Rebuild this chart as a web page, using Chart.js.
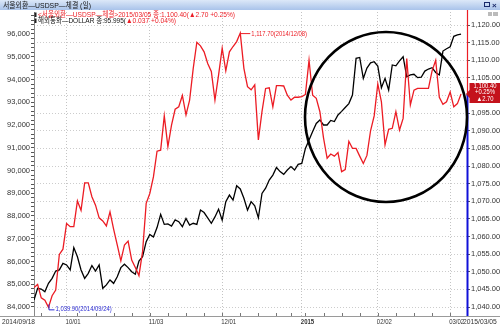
<!DOCTYPE html>
<html>
<head>
<meta charset="utf-8">
<title>서울외환-USDSP-체결 (일)</title>
<script src="https://cdn.jsdelivr.net/npm/chart.js@4.4.1/dist/chart.umd.min.js"></script>
<style>
  html, body { margin: 0; padding: 0; background: #fff; overflow: hidden; }
  #wrap { position: relative; width: 500px; height: 327px; }
</style>
</head>
<body>
<div id="wrap"><canvas id="chart" width="500" height="327"></canvas></div>
<script>
// Trading dates (union of Seoul FX and dollar index days)
const dates = [
  '2014/09/18','2014/09/19','2014/09/22','2014/09/23','2014/09/24','2014/09/25','2014/09/26','2014/09/29','2014/09/30',
  '2014/10/01','2014/10/02','2014/10/03','2014/10/06','2014/10/07','2014/10/08','2014/10/09','2014/10/10','2014/10/13',
  '2014/10/14','2014/10/15','2014/10/16','2014/10/17','2014/10/20','2014/10/21','2014/10/22','2014/10/23','2014/10/24',
  '2014/10/27','2014/10/28','2014/10/29','2014/10/30','2014/10/31',
  '2014/11/03','2014/11/04','2014/11/05','2014/11/06','2014/11/07','2014/11/10','2014/11/11','2014/11/12','2014/11/13',
  '2014/11/14','2014/11/17','2014/11/18','2014/11/19','2014/11/20','2014/11/21','2014/11/24','2014/11/25','2014/11/26',
  '2014/11/27','2014/11/28',
  '2014/12/01','2014/12/02','2014/12/03','2014/12/04','2014/12/05','2014/12/08','2014/12/09','2014/12/10','2014/12/11',
  '2014/12/12','2014/12/15','2014/12/16','2014/12/17','2014/12/18','2014/12/19','2014/12/22','2014/12/23','2014/12/24',
  '2014/12/26','2014/12/29','2014/12/30','2014/12/31',
  '2015/01/02','2015/01/05','2015/01/06','2015/01/07','2015/01/08','2015/01/09','2015/01/12','2015/01/13','2015/01/14',
  '2015/01/15','2015/01/16','2015/01/19','2015/01/20','2015/01/21','2015/01/22','2015/01/23','2015/01/26','2015/01/27',
  '2015/01/28','2015/01/29','2015/01/30',
  '2015/02/02','2015/02/03','2015/02/04','2015/02/05','2015/02/06','2015/02/09','2015/02/10','2015/02/11','2015/02/12',
  '2015/02/13','2015/02/16','2015/02/17','2015/02/18','2015/02/19','2015/02/20','2015/02/23','2015/02/24','2015/02/25',
  '2015/02/26','2015/02/27',
  '2015/03/02','2015/03/03','2015/03/04','2015/03/05'
];

// 서울외환-USDSP-체결 (right axis)
const usdKrw = [
  1045.5, 1046.4, 1042.6, 1041.9, 1039.9, 1043.2, 1044.8, 1054.9, 1056.4,
  1063.7, 1062.8, 1062.8, 1070.1, 1067.4, 1075.2, 1075.2, 1071.3, 1068.9, 1065.3, 1064.4, 1063.0, 1067.0,
  1062.1, 1057.6, 1053.1, 1057.6, 1058.7, 1053.3, 1051.2, 1048.9, 1055.7, 1069.4,
  1072.2, 1076.9, 1084.2, 1084.5, 1094.2, 1085.5, 1091.6, 1096.1, 1096.8, 1100.0, 1094.5, 1098.7, 1107.7,
  1115.1, 1114.1, 1112.4, 1109.1, 1106.8, 1098.7, 1105.8,
  1113.4, 1107.0, 1112.4, 1113.9, 1115.3, 1117.7, 1107.7, 1102.5, 1101.6, 1103.0, 1087.4, 1095.4, 1102.0,
  1102.2, 1096.8, 1102.8, 1102.8, 1102.7, 1100.1, 1098.7, 1099.5, 1099.5,
  1099.7, 1100.3, 1110.0, 1100.1, 1099.2, 1095.4, 1088.0, 1082.2, 1083.4, 1082.8, 1083.8, 1078.4, 1079.0,
  1087.0, 1085.0, 1085.0, 1082.8, 1080.7, 1083.0, 1090.0, 1094.2,
  1103.3, 1098.2, 1086.0, 1090.4, 1090.7, 1095.4, 1090.2, 1093.5, 1110.5, 1097.3, 1101.5, 1102.0, 1102.0,
  1102.0, 1102.0, 1107.0, 1110.0, 1099.5, 1097.5, 1098.2,
  1101.0, 1096.8, 1097.7, 1100.4
];

// 해외통화-DOLLAR (left axis)
const dollarIdx = [
  84.31, 84.82, 84.79, 84.67, 85.04, 85.26, 85.58, 85.63, 85.92,
  85.85, 85.63, 86.61, 86.21, 85.63, 85.26, 85.48, 85.82, 85.58, 85.85, 84.82, 84.97, 85.19,
  85.04, 85.33, 85.73, 85.88, 85.73, 85.55, 85.44, 86.02, 86.21, 86.87,
  87.19, 87.08, 87.49, 88.07, 87.63, 87.65, 87.56, 87.83, 87.75, 87.53, 87.89, 87.60, 87.68,
  87.63, 88.26, 88.15, 87.92, 87.68, 87.96, 88.30,
  87.82, 88.63, 88.92, 88.70, 89.33, 89.19, 88.78, 88.26, 88.63, 88.45, 87.92, 88.99, 89.22,
  89.58, 89.80, 90.13, 89.95, 89.83, 90.02, 90.17, 90.02, 90.27,
  90.31, 90.97, 91.34, 91.71, 92.07, 92.22, 92.00, 92.00, 92.20, 92.15, 92.44, 92.60, 92.77,
  92.94, 93.32, 94.93, 94.97, 94.05, 94.50, 94.73, 94.78,
  94.59, 93.64, 94.05, 93.54, 94.64, 94.60, 94.82, 95.00, 94.12, 94.20, 94.23, 94.08, 94.10,
  94.37, 94.46, 94.52, 94.31, 94.20, 95.25, 95.35,
  95.44, 95.90, 95.958, 95.995
];

const xTickIndex = [9, 32, 52, 74, 95, 115];
const xTickText = ['10/01', '11/03', '12/01', '2015', '02/02', '03/02'];
const leftMajorTicks = [84, 85, 86, 87, 88, 89, 90, 91, 92, 93, 94, 95, 96];
const rightTicks = [1040, 1045, 1050, 1055, 1060, 1065, 1070, 1075, 1080, 1085, 1090, 1095, 1100, 1105, 1110, 1115, 1120];

const RED = '#ec1c24';
const BLUE = '#2a2ad2';
const SANS = "'Liberation Sans', 'Noto Sans CJK KR', sans-serif";

const toXY = arr => arr.map((v, i) => ({ x: i, y: v }));

const last = usdKrw.length - 1;
const maxIdx = usdKrw.indexOf(Math.max(...usdKrw));
const minIdx = usdKrw.indexOf(Math.min(...usdKrw));

const fmtKrw = v => v.toLocaleString('en-US', { minimumFractionDigits: 2, maximumFractionDigits: 2 });

// text squeezed sideways, like the small bitmap font of the original
function narrowText(ctx, text, x, y, squeeze) {
  ctx.fillText(text, x, y, ctx.measureText(text).width * (squeeze || 0.85));
}

// title bar, legend, date labels, annotations
const decor = {
  id: 'decor',
  afterDraw(chart) {
    const { ctx, chartArea: ca, scales } = chart;
    const xs = scales.x, yR = scales.yR;
    ctx.save();

    // title bar
    const g = ctx.createLinearGradient(0, 0, 0, 10);
    g.addColorStop(0, '#dce8f8');
    g.addColorStop(1, '#a9c3ea');
    ctx.fillStyle = g;
    ctx.fillRect(0, 0, 500, 10);
    ctx.fillStyle = '#111';
    ctx.font = '8px ' + SANS;
    ctx.textBaseline = 'middle';
    ctx.textAlign = 'left';
    ctx.fillText('서울외환—USDSP—체결 (일)', 3, 5.5, 88);
    ctx.strokeStyle = '#1a2a6a';
    ctx.lineWidth = 1;
    ctx.strokeRect(484.5, 2.5, 5, 4);
    ctx.font = 'bold 8px ' + SANS;
    ctx.fillStyle = '#1a2a6a';
    ctx.fillText('×', 492, 5.5);
    ctx.fillStyle = '#bbb';
    ctx.fillRect(488, 12, 4, 4);
    ctx.fillRect(493, 12, 5, 4);

    // legend lines
    ctx.fillStyle = '#222';
    ctx.fillRect(34.5, 12.5, 2, 4.5);
    ctx.fillRect(34.5, 18.5, 2, 4.5);
    ctx.font = '7.5px ' + SANS;
    ctx.fillStyle = RED;
    ctx.fillText('<서울외환—USDSP—체결>2015/03/05 종:1,100.40(▲2.70 +0.25%)', 38, 15, 197);
    ctx.fillStyle = '#111';
    const part1 = '해외통화—DOLLAR 종:95.995(';
    ctx.fillText(part1, 38, 21, 88);
    const w1 = Math.min(ctx.measureText(part1).width, 88);
    ctx.fillStyle = RED;
    ctx.fillText('▲0.037 +0.04%)', 38 + w1, 21, 50);

    // bottom axis line and weekly ticks
    ctx.strokeStyle = '#9a9a9a';
    ctx.beginPath();
    ctx.moveTo(0, ca.bottom + 0.5);
    ctx.lineTo(500, ca.bottom + 0.5);
    ctx.stroke();
    ctx.strokeStyle = '#777';
    dates.forEach((d, i) => {
      if (new Date(d.replace(/\//g, '-')).getUTCDay() === 1) {
        const px = Math.round(xs.getPixelForValue(i)) + 0.5;
        ctx.beginPath();
        ctx.moveTo(px, ca.bottom - 3);
        ctx.lineTo(px, ca.bottom);
        ctx.stroke();
      }
    });

    // date labels
    ctx.fillStyle = '#333';
    ctx.font = '7.5px ' + SANS;
    ctx.textBaseline = 'middle';
    ctx.textAlign = 'right';
    narrowText(ctx, dates[0], xs.getPixelForValue(0) + 1, 322, 0.88);
    ctx.textAlign = 'left';
    xTickIndex.forEach((idx, k) => {
      ctx.font = (xTickText[k] === '2015' ? 'bold ' : '') + '7.5px ' + SANS;
      narrowText(ctx, xTickText[k], xs.getPixelForValue(idx) - 1, 322, 0.8);
    });
    ctx.font = '7.5px ' + SANS;
    narrowText(ctx, dates[last], xs.getPixelForValue(last) + 2, 322, 0.9);

    // right axis: red above the last price, blue below
    const yLast = yR.getPixelForValue(usdKrw[last]);
    ctx.lineWidth = 1.2;
    ctx.strokeStyle = RED;
    ctx.beginPath();
    ctx.moveTo(ca.right + 0.5, 10);
    ctx.lineTo(ca.right + 0.5, yLast);
    ctx.stroke();
    ctx.lineWidth = 2;
    ctx.strokeStyle = '#1010d8';
    ctx.beginPath();
    ctx.moveTo(ca.right + 0.5, yLast);
    ctx.lineTo(ca.right + 0.5, ca.bottom);
    ctx.stroke();

    // max label
    const mx = xs.getPixelForValue(maxIdx), my = yR.getPixelForValue(usdKrw[maxIdx]);
    ctx.lineWidth = 1;
    ctx.strokeStyle = RED;
    ctx.beginPath();
    ctx.moveTo(mx, my + 0.5);
    ctx.lineTo(mx + 10, my + 0.5);
    ctx.stroke();
    ctx.fillStyle = RED;
    ctx.font = '7px ' + SANS;
    narrowText(ctx, fmtKrw(usdKrw[maxIdx]) + '(' + dates[maxIdx] + ')', mx + 11, my + 1, 0.84);

    // min label
    const nx = xs.getPixelForValue(minIdx), ny = yR.getPixelForValue(usdKrw[minIdx]);
    ctx.strokeStyle = BLUE;
    ctx.beginPath();
    ctx.moveTo(nx + 0.5, ny - 3);
    ctx.lineTo(nx + 0.5, ny + 2.5);
    ctx.lineTo(nx + 6, ny + 2.5);
    ctx.stroke();
    ctx.fillStyle = BLUE;
    narrowText(ctx, fmtKrw(usdKrw[minIdx]) + '(' + dates[minIdx] + ')', nx + 7, ny + 2, 0.84);

    // hand-drawn circle
    ctx.strokeStyle = '#000';
    ctx.lineWidth = 2.6;
    ctx.beginPath();
    ctx.ellipse(386, 117, 81, 85, 0, 0, Math.PI * 2);
    ctx.stroke();

    // last price tag
    ctx.fillStyle = '#c4121c';
    ctx.beginPath();
    ctx.moveTo(466, yLast);
    ctx.lineTo(469.5, yLast - 4);
    ctx.lineTo(469.5, 83);
    ctx.lineTo(500, 83);
    ctx.lineTo(500, 103);
    ctx.lineTo(469.5, 103);
    ctx.lineTo(469.5, yLast + 4);
    ctx.closePath();
    ctx.fill();
    ctx.fillStyle = '#fff';
    ctx.font = '6.5px ' + SANS;
    ctx.textAlign = 'center';
    narrowText(ctx, fmtKrw(usdKrw[last]), 485, 86.5, 0.9);
    narrowText(ctx, '+0.25%', 485, 92.7, 0.9);
    narrowText(ctx, '▲2.70', 485, 99, 0.9);

    ctx.restore();
  }
};

new Chart(document.getElementById('chart'), {
  type: 'line',
  data: {
    datasets: [
      {
        label: '서울외환-USDSP-체결',
        data: toXY(usdKrw),
        yAxisID: 'yR',
        borderColor: RED,
        borderWidth: 1.3,
        pointRadius: 0,
        tension: 0
      },
      {
        label: '해외통화-DOLLAR',
        data: toXY(dollarIdx),
        yAxisID: 'yL',
        borderColor: '#000',
        borderWidth: 1.3,
        pointRadius: 0,
        tension: 0
      }
    ]
  },
  options: {
    responsive: false,
    animation: false,
    devicePixelRatio: 1,
    layout: { padding: { top: 12, left: 0, right: 0, bottom: 0 } },
    plugins: { legend: { display: false }, tooltip: { enabled: false } },
    scales: {
      x: {
        type: 'linear',
        min: 0,
        max: 119.65,
        afterBuildTicks: s => { s.ticks = xTickIndex.map(v => ({ value: v })); },
        afterFit: s => { s.height = 11; },
        ticks: { display: false },
        grid: { color: '#c4c4c4', drawTicks: false },
        border: { display: false, dash: [1, 2] }
      },
      yL: {
        type: 'linear',
        position: 'left',
        min: 83.604,
        max: 96.967,
        afterBuildTicks: s => {
          const t = [];
          leftMajorTicks.forEach(v => {
            for (let k = 0; k < 5; k++) {
              const val = v + k * 0.2;
              if (val <= s.max) t.push({ value: val, major: k === 0 });
            }
          });
          s.ticks = t;
        },
        afterFit: s => { s.width = 34; },
        ticks: {
          autoSkip: false,
          padding: 1,
          color: '#333',
          font: { family: SANS, size: 7.5 },
          callback: v => {
            const r = Math.round(v);
            return Math.abs(v - r) < 1e-6 ? r + ',000' : '';
          }
        },
        grid: { drawOnChartArea: false, drawTicks: true, tickLength: 3, tickColor: '#555' },
        border: { display: true, color: '#888' }
      },
      yR: {
        type: 'linear',
        position: 'right',
        min: 1037.447,
        max: 1123.688,
        afterBuildTicks: s => { s.ticks = rightTicks.map(v => ({ value: v })); },
        afterFit: s => { s.width = 33; },
        ticks: {
          autoSkip: false,
          padding: 1,
          color: '#333',
          font: { family: SANS, size: 7.5 },
          callback: v => fmtKrw(v)
        },
        grid: { color: '#cccccc', drawTicks: true, tickLength: 3, tickColor: '#555', tickBorderDash: [] },
        border: { display: false, dash: [1, 2] }
      }
    }
  },
  plugins: [decor]
});
</script>
</body>
</html>
